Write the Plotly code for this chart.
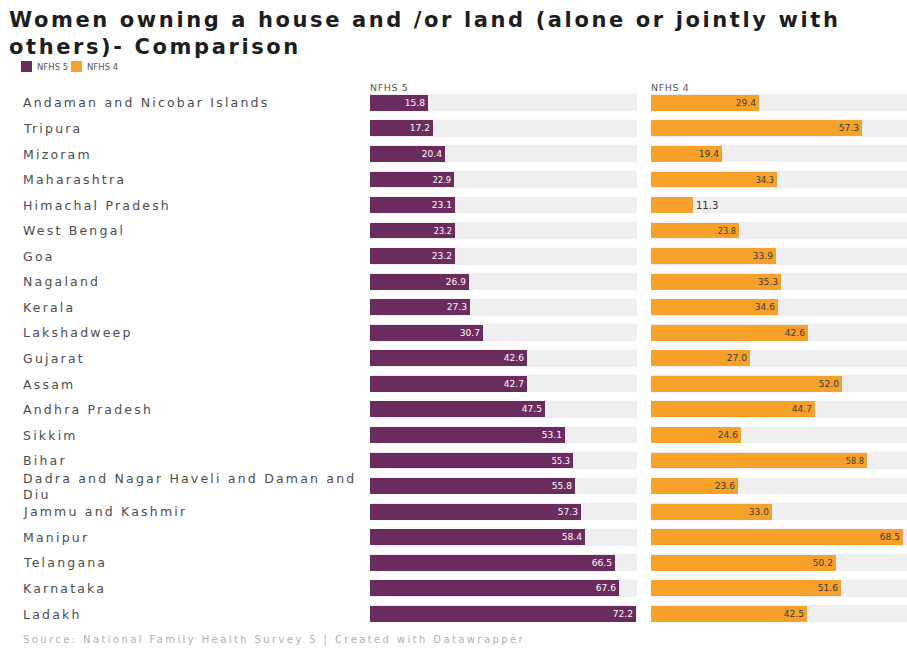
import plotly.graph_objects as go

states = [
    "Andaman and Nicobar Islands", "Tripura", "Mizoram", "Maharashtra",
    "Himachal Pradesh", "West Bengal", "Goa", "Nagaland", "Kerala",
    "Lakshadweep", "Gujarat", "Assam", "Andhra Pradesh", "Sikkim", "Bihar",
    "Dadra and Nagar Haveli and Daman and Diu", "Jammu and Kashmir",
    "Manipur", "Telangana", "Karnataka", "Ladakh",
]
state_labels = [s if not s.startswith("Dadra") else
                "Dadra and Nagar Haveli and Daman and<br>Diu" for s in states]
nfhs5 = [15.8, 17.2, 20.4, 22.9, 23.1, 23.2, 23.2, 26.9, 27.3, 30.7, 42.6,
         42.7, 47.5, 53.1, 55.3, 55.8, 57.3, 58.4, 66.5, 67.6, 72.2]
nfhs4 = [29.4, 57.3, 19.4, 34.3, 11.3, 23.8, 33.9, 35.3, 34.6, 42.6, 27.0,
         52.0, 44.7, 24.6, 58.8, 23.6, 33.0, 68.5, 50.2, 51.6, 42.5]

title_lines = ["Women owning a house and /or land (alone or jointly with",
               "others)- Comparison"]
source = "Source: National Family Health Survey 5 | Created with Datawrapper"

PURPLE = "#6c2b5e"
ORANGE = "#f8a12a"
BG = "#efefef"
W, H = 907, 648
FONT = "DejaVu Sans"

x5max = 72.6
x4max = 69.6


def spaced(txt, px):
    return f'<span style="letter-spacing:{px}px">{txt}</span>'


fig = go.Figure()

# background bands
fig.add_trace(go.Bar(y=states, x=[x5max] * len(states), orientation="h",
                     marker_color=BG, width=0.66, xaxis="x", yaxis="y",
                     hoverinfo="skip", showlegend=False))
fig.add_trace(go.Bar(y=states, x=[x4max + 5] * len(states), orientation="h",
                     marker_color=BG, width=0.66, xaxis="x2", yaxis="y",
                     hoverinfo="skip", showlegend=False))


def pos(vals):
    return ["outside" if v < 14 else "inside" for v in vals]


fig.add_trace(go.Bar(
    y=states, x=nfhs5, orientation="h", name="NFHS 5",
    marker=dict(color=PURPLE, line=dict(width=0)), width=0.62,
    text=[f"{v:.1f}" for v in nfhs5], textposition=pos(nfhs5),
    insidetextanchor="end",
    insidetextfont=dict(color="white", size=10, family=FONT),
    outsidetextfont=dict(color="#333", size=10, family=FONT),
    xaxis="x", yaxis="y", showlegend=False, cliponaxis=False))
fig.add_trace(go.Bar(
    y=states, x=nfhs4, orientation="h", name="NFHS 4",
    marker=dict(color=ORANGE, line=dict(width=0)), width=0.62,
    text=[f"{v:.1f}" for v in nfhs4], textposition=pos(nfhs4),
    insidetextanchor="end",
    insidetextfont=dict(color="#3a3a3a", size=10, family=FONT),
    outsidetextfont=dict(color="#333", size=10, family=FONT),
    xaxis="x2", yaxis="y", showlegend=False, cliponaxis=False))

n = len(states)
ann = []
for s, lab in zip(states, state_labels):
    lab_html = "<br>".join(spaced(p, 2.2) for p in lab.split("<br>"))
    ann.append(dict(x=21 / W, xref="paper", y=s, yref="y", text=lab_html,
                    showarrow=False, xanchor="left", yanchor="middle",
                    align="left",
                    font=dict(size=12.5, color="#4d4d4d", family=FONT)))

title_html = "<br>".join("<b>" + spaced(t, 2.6) + "</b>" for t in title_lines)
small = dict(size=9.5, color="#555", family=FONT)
legend_font = dict(size=8.5, color="#555", family=FONT)
ann += [
    dict(x=7 / W, y=1 - 6 / H, xref="paper", yref="paper", text=title_html,
         showarrow=False, xanchor="left", yanchor="top", align="left",
         font=dict(size=21, color="#1d1d1d", family=FONT)),
    dict(x=35 / W, y=1 - 67 / H, xref="paper", yref="paper",
         text="NFHS 5", showarrow=False, xanchor="left",
         yanchor="middle", font=legend_font),
    dict(x=85 / W, y=1 - 67 / H, xref="paper", yref="paper",
         text="NFHS 4", showarrow=False, xanchor="left",
         yanchor="middle", font=legend_font),
    dict(x=368 / W, y=1 - 88 / H, xref="paper", yref="paper",
         text=spaced("NFHS 5", 0.6), showarrow=False, xanchor="left",
         yanchor="middle", font=small),
    dict(x=649 / W, y=1 - 88 / H, xref="paper", yref="paper",
         text=spaced("NFHS 4", 0.6), showarrow=False, xanchor="left",
         yanchor="middle", font=small),
    dict(x=21 / W, y=1 - 640 / H, xref="paper", yref="paper",
         text=spaced(source, 2.4), showarrow=False, xanchor="left",
         yanchor="middle", font=dict(size=10, color="#b0b0b0", family=FONT)),
]

shapes = [
    dict(type="rect", xref="paper", yref="paper", x0=21 / W, x1=32 / W,
         y0=1 - 72 / H, y1=1 - 61 / H, fillcolor=PURPLE, line=dict(width=0)),
    dict(type="rect", xref="paper", yref="paper", x0=71 / W, x1=82 / W,
         y0=1 - 72 / H, y1=1 - 61 / H, fillcolor=ORANGE, line=dict(width=0)),
]

top_px, bot_px = 90.2, 626.8
fig.update_layout(
    width=W, height=H, margin=dict(l=0, r=0, t=0, b=0),
    paper_bgcolor="white", plot_bgcolor="white",
    barmode="overlay", bargap=0,
    font=dict(family=FONT),
    xaxis=dict(domain=[370 / W, 637 / W], range=[0, x5max], visible=False,
               fixedrange=True),
    xaxis2=dict(domain=[651 / W, 1], range=[0, x4max], visible=False,
                fixedrange=True),
    yaxis=dict(domain=[1 - bot_px / H, 1 - top_px / H], type="category",
               categoryorder="array", categoryarray=states,
               range=[n - 0.5, -0.5], visible=False, fixedrange=True),
    annotations=ann, shapes=shapes,
)

fig.write_html(
    "out.html",
    config={"displayModeBar": False},
    post_script="document.body.style.margin='0';document.body.style.overflow='hidden';",
)
